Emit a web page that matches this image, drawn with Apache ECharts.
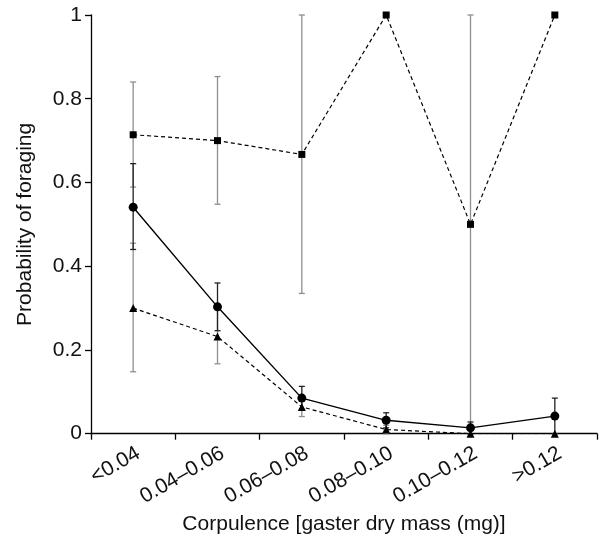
<!DOCTYPE html>
<html><head><meta charset="utf-8">
<script src="https://cdn.jsdelivr.net/npm/echarts@6/dist/echarts.min.js"></script>
<style>html,body{margin:0;padding:0;background:#fff}#c{width:601px;height:540px}</style>
</head><body><div id="c"></div>
<script>
var categories = ['<0.04','0.04\u20130.06','0.06\u20130.08','0.08\u20130.10','0.10\u20130.12','>0.12'];
var yTicks = [0, 0.2, 0.4, 0.6, 0.8, 1];

var squareVals = [0.714, 0.700, 0.667, 1.0, 0.5, 1.0];
var squareLow  = [0.589, 0.548, 0.335, 1.0, 0.0, 1.0];
var squareHigh = [0.840, 0.853, 1.0, 1.0, 1.0, 1.0];

var circleVals = [0.541, 0.303, 0.085, 0.032, 0.014, 0.042];
var circleLow  = [0.440, 0.246, 0.058, 0.014, 0.000, 0.000];
var circleHigh = [0.645, 0.360, 0.113, 0.050, 0.028, 0.085];

var triVals = [0.300, 0.232, 0.064, 0.010, 0.0, 0.0];
var triLow  = [0.148, 0.167, 0.041, 0.000, 0.0, 0.0];
var triHigh = [0.455, 0.298, 0.087, 0.020, 0.0, 0.0];

function errData(low, high){ return low.map(function(l,i){ return [i, l, high[i]]; }); }

function errSeries(low, high, color, z){
  return {
    type: 'custom', z: z, silent: true,
    data: errData(low, high),
    encode: {x: 0, y: [1, 2]},
    renderItem: function(params, api){
      var x = api.value(0);
      var p1 = api.coord([x, api.value(1)]);
      var p2 = api.coord([x, api.value(2)]);
      var w = 3;
      var st = {stroke: color, lineWidth: 1.3};
      return {type: 'group', children: [
        {type: 'line', shape: {x1: p1[0], y1: p1[1], x2: p2[0], y2: p2[1]}, style: st},
        {type: 'line', shape: {x1: p1[0]-w, y1: p1[1], x2: p1[0]+w, y2: p1[1]}, style: st},
        {type: 'line', shape: {x1: p2[0]-w, y1: p2[1], x2: p2[0]+w, y2: p2[1]}, style: st}
      ]};
    }
  };
}

var chart = echarts.init(document.getElementById('c'));
chart.setOption({
  animation: false,
  backgroundColor: '#fff',
  textStyle: {fontFamily: 'Liberation Sans, Arial, sans-serif'},
  grid: {left: 91, right: 4, top: 15, bottom: 105, containLabel: false},
  xAxis: {
    type: 'category', data: categories, boundaryGap: true,
    axisLine: {lineStyle: {color: '#000', width: 1.3}},
    axisTick: {show: true, alignWithLabel: false, length: 6, lineStyle: {color: '#000', width: 1.3}},
    axisLabel: {rotate: 30, fontSize: 21, color: '#111', margin: 9, interval: 0, verticalAlign: 'top'},
    name: 'Corpulence [gaster dry mass (mg)]', nameLocation: 'middle', nameGap: 76,
    nameTextStyle: {fontSize: 21, color: '#111'}
  },
  yAxis: {
    type: 'value', min: 0, max: 1, interval: 0.2,
    axisLine: {show: true, lineStyle: {color: '#000', width: 1.3}},
    axisTick: {show: true, length: 6, lineStyle: {color: '#000', width: 1.3}},
    splitLine: {show: false},
    axisLabel: {fontSize: 21, color: '#111', margin: 9, formatter: function(v){
      var t = yTicks.filter(function(k){ return Math.abs(k - v) < 1e-9; });
      return t.length ? String(t[0]) : '';
    }},
    name: 'Probability of foraging', nameLocation: 'middle', nameGap: 55,
    nameTextStyle: {fontSize: 21, color: '#111'}
  },
  series: [
    errSeries(squareLow, squareHigh, '#8f8f8f', 1),
    errSeries(triLow, triHigh, '#8f8f8f', 1),
    errSeries(circleLow, circleHigh, '#222', 2),
    {type: 'line', data: squareVals, symbol: 'rect', symbolSize: 7, z: 5,
     lineStyle: {color: '#000', width: 1.2, type: [4, 3]}, itemStyle: {color: '#000'}},
    {type: 'line', data: triVals, symbol: 'triangle', symbolSize: 8, z: 5,
     lineStyle: {color: '#000', width: 1.2, type: [4, 3]}, itemStyle: {color: '#000'}},
    {type: 'line', data: circleVals, symbol: 'circle', symbolSize: 9, z: 6,
     lineStyle: {color: '#000', width: 1.4}, itemStyle: {color: '#000'}}
  ]
});
</script></body></html>
